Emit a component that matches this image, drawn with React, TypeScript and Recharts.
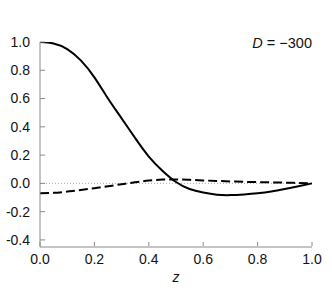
import React from 'react';
import { LineChart, Line, XAxis, YAxis, ReferenceLine } from 'recharts';

const zValues = [0, 0.05, 0.1, 0.15, 0.2, 0.25, 0.3, 0.35, 0.4, 0.45, 0.5, 0.55, 0.6, 0.65, 0.7, 0.75, 0.8, 0.85, 0.9, 0.95, 1.0];
const solidValues = [1.0, 0.99, 0.95, 0.87, 0.75, 0.6, 0.46, 0.32, 0.19, 0.09, 0.01, -0.04, -0.065, -0.08, -0.083, -0.078, -0.07, -0.058, -0.04, -0.02, 0];
const dashedValues = [-0.07, -0.067, -0.058, -0.047, -0.034, -0.02, -0.006, 0.008, 0.02, 0.027, 0.028, 0.025, 0.021, 0.017, 0.014, 0.011, 0.009, 0.007, 0.005, 0.003, 0];
const xTicks = [0, 0.2, 0.4, 0.6, 0.8, 1.0];
const yTicks = [-0.4, -0.2, 0, 0.2, 0.4, 0.6, 0.8, 1.0];

const data = zValues.map((z, i) => ({ z, solid: solidValues[i], dashed: dashedValues[i] }));

const FONT = '"Liberation Sans", Arial, sans-serif';
const AXIS = '#8a8a8a';

const YTick = (props: any) => {
    const { x, y, payload } = props;
    return (
        <g>
            <line x1={x + 10} y1={y} x2={x + 15} y2={y} stroke={AXIS} />
            <text x={x} y={y} dy="0.35em" textAnchor="end" fill="#111" fontSize={14} fontFamily={FONT}>
                {payload.value.toFixed(1)}
            </text>
        </g>
    );
};

const XTick = (props: any) => {
    const { x, y, payload } = props;
    return (
        <g>
            <line x1={x} y1={y - 8} x2={x} y2={y - 12} stroke={AXIS} />
            <text x={x} y={y} dy="0.71em" textAnchor="middle" fill="#111" fontSize={14} fontFamily={FONT}>
                {payload.value.toFixed(1)}
            </text>
        </g>
    );
};

export default function App() {
    return (
        <div style={{ position: 'absolute', left: 0, top: 0, width: 332, height: 291, background: '#fff' }}>
            <LineChart width={332} height={291} data={data} margin={{ top: 42, right: 20, bottom: 0, left: 0 }}>
                <XAxis
                    dataKey="z"
                    type="number"
                    domain={[0, 1]}
                    ticks={xTicks}
                    stroke={AXIS}
                    tickLine={false}
                    tickSize={0}
                    tickMargin={7}
                    tick={<XTick />}
                    height={44}
                />
                <YAxis
                    type="number"
                    domain={[-0.45, 1.0]}
                    ticks={yTicks}
                    stroke={AXIS}
                    tickLine={false}
                    tickSize={0}
                    tickMargin={10}
                    tick={<YTick />}
                    width={40}
                    allowDataOverflow
                />
                <ReferenceLine y={0} stroke="#aaa" strokeDasharray="1 2" />
                <Line type="natural" dataKey="dashed" stroke="#000" strokeWidth={2} strokeDasharray="9 4" dot={false} isAnimationActive={false} />
                <Line type="natural" dataKey="solid" stroke="#000" strokeWidth={2} dot={false} isAnimationActive={false} />
                <text x={176} y={282} textAnchor="middle" fontSize={14} fontStyle="italic" fontFamily={FONT} fill="#111">z</text>
                <text x={312} y={48} textAnchor="end" fontSize={14.5} fontFamily={FONT} fill="#111">
                    <tspan fontStyle="italic">D</tspan>
                    <tspan> = −300</tspan>
                </text>
            </LineChart>
        </div>
    );
}
